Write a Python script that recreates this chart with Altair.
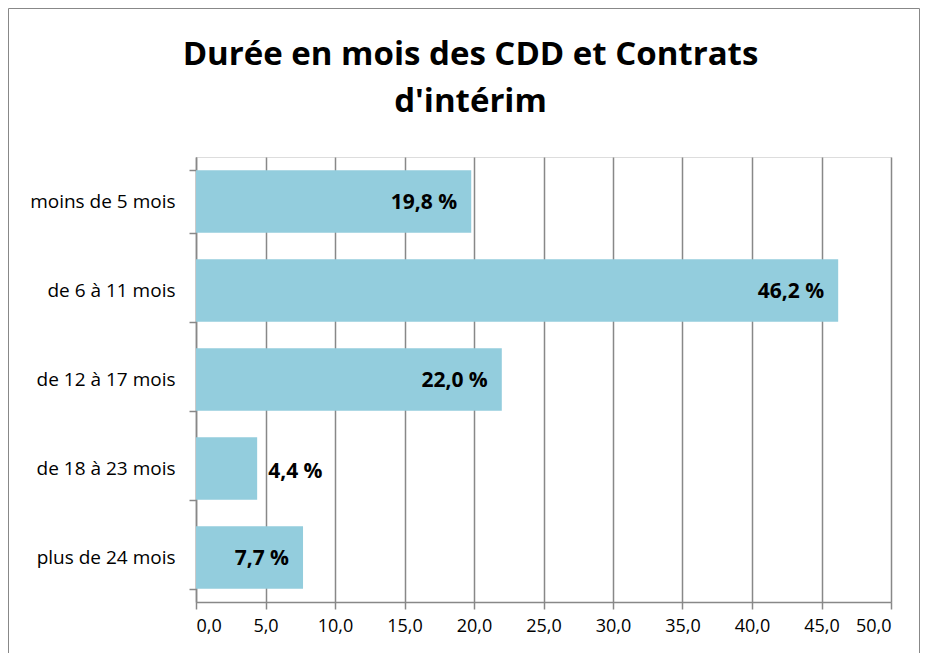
import altair as alt
import pandas as pd

categories = ["moins de 5 mois", "de 6 à 11 mois", "de 12 à 17 mois", "de 18 à 23 mois", "plus de 24 mois"]
values = [19.8, 46.2, 22.0, 4.4, 7.7]

df = pd.DataFrame({"cat": categories, "val": values})
df["label"] = df["val"].map(lambda v: f"{v:.1f}".replace(".", ",") + " %")

FONT = "Open Sans"
GRAY = "#888888"

y_enc = alt.Y("cat:N", sort=categories, title=None,
              scale=alt.Scale(paddingInner=0.3, paddingOuter=0.15),
              axis=alt.Axis(labelFont=FONT, labelFontSize=19, labelColor="#000000",
                            labelPadding=14, tickSize=7, tickColor=GRAY, tickWidth=1.5,
                            domainColor=GRAY, domainWidth=1.5, tickBand="extent"))
x_enc = alt.X("val:Q", title=None,
              scale=alt.Scale(domain=[0, 50], nice=False),
              axis=alt.Axis(values=list(range(0, 55, 5)),
                            labelExpr="replace(format(datum.value, '.1f'), '.', ',')",
                            labelFont=FONT, labelFontSize=18, labelColor="#000000",
                            labelPadding=8, tickSize=7, tickColor=GRAY, tickWidth=1.5,
                            domainColor=GRAY, domainWidth=1.5,
                            grid=True, gridColor=GRAY, gridWidth=1.5))

base = alt.Chart(df)

frame = alt.Chart(pd.DataFrame({"k": [0]})).mark_rect(
    fillOpacity=0, stroke=GRAY, strokeWidth=1
).encode(x=alt.value(-187.5), x2=alt.value(723.5), y=alt.value(-148.5), y2=alt.value(500))

bars = base.mark_bar(color="#93CDDD").encode(x=x_enc, y=y_enc)

inside = base.transform_filter("datum.val >= 6").mark_text(
    align="right", baseline="middle", dx=-14, dy=1, font=FONT, fontSize=21, fontWeight="bold", color="#000000"
).encode(x="val:Q", y=alt.Y("cat:N", sort=categories), text="label:N")

outside = base.transform_filter("datum.val < 6").mark_text(
    align="left", baseline="middle", dx=11, dy=3, font=FONT, fontSize=21, fontWeight="bold", color="#000000"
).encode(x="val:Q", y=alt.Y("cat:N", sort=categories), text="label:N")

chart = alt.layer(frame, bars, inside, outside).properties(
    width=695, height=445,
    title=alt.TitleParams(["Durée en mois des CDD et Contrats", "d'intérim"],
                          font=FONT, fontSize=33, fontWeight="bold", color="#000000",
                          anchor="middle", frame="group", dx=-73, offset=0, dy=137,
                          baseline="alphabetic", lineHeight=47),
    autosize=alt.AutoSizeParams(type="none"),
    padding={"left": 188, "top": 149, "right": 29, "bottom": 51},
).configure_view(stroke=None).configure(background="#ffffff")

chart.save("out.html", embed_options={"renderer": "svg", "actions": False})
